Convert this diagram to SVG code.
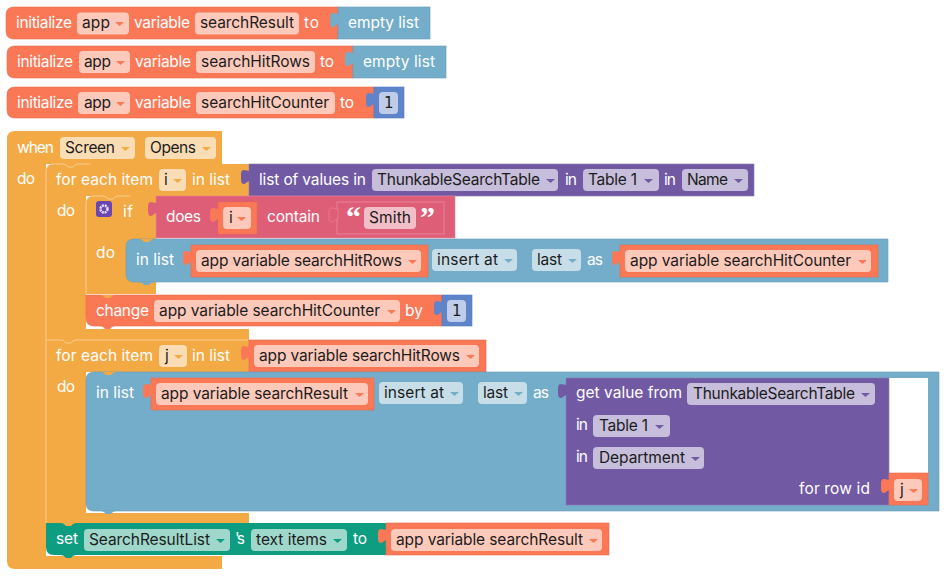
<svg xmlns="http://www.w3.org/2000/svg" width="950" height="577" viewBox="0 0 950 577">
<style>
text{font-family:"Inter","Liberation Sans",sans-serif;font-size:15.500px}
.l{fill:#fff}.f{fill:#1c1c1c}
.one{font-family:"DejaVu Sans",sans-serif;font-size:15px}
.q{font-family:"Liberation Serif",serif;font-size:30px;font-weight:bold}
.or{fill:#FB7857;stroke:#E56B4C;stroke-width:.6}.bl{fill:#74ADC9;stroke:#659CB8;stroke-width:.6}
.pu{fill:#715AA3;stroke:#8C79B6;stroke-width:.6}.pk{fill:#DE5E78;stroke:#E8829A;stroke-width:.6}
.ye{fill:#F3AA44}.gr{fill:#0F9D82}.nu{fill:#5F84C9;stroke:#527AC0;stroke-width:.6}
.edge{fill:none;stroke:#F8CC90;stroke-width:1}
.for{fill:#FDC9BA}.fbl{fill:#C7DEE9}.fpu{fill:#C6BEDA}.fye{fill:#FADDB4}.fgr{fill:#9FD8CB}.fpk{fill:#F2BFC9}.fnu{fill:#BFCDE9}
.aor{fill:#FB7857}.abl{fill:#74ADC9}.apu{fill:#715AA3}.aye{fill:#F3AA44}.agr{fill:#0F9D82}
.none{fill:none;stroke:#EA8BA0;stroke-width:.8}
</style>
<defs>
<path id="tab" d="M1,0 C-2,0 -3,-1 -5,-1 C-8,-1 -8,2 -8,6 C-8,10 -8,13 -5,13 C-3,13 -2,10 1,10 Z"/>
<path id="notch" d="M0,0 Q3,0 5,3 H10 Q12,0 15,0 Z"/>
<path id="arr" d="M0,0 H9 L4.500,4 Z"/>
</defs>

<g id="init-searchResult">
<path class="or" d="M14,7 H338 V39 H14 Q6,39 6,31 V15 Q6,7 14,7 Z"/>
<rect class="bl" x="338" y="7" width="92" height="32"/><use href="#tab" x="338" y="14" fill="#74ADC9"/>
<text class="l" x="16" y="28" textLength="56">initialize</text>
<rect class="for" x="77" y="12.500" width="52" height="22" rx="4"/><text class="f" x="82" y="28" textLength="28">app</text><use href="#arr" x="115" y="22" class="aor"/>
<text class="l" x="134" y="28" textLength="56">variable</text>
<rect class="for" x="195" y="12.500" width="104" height="22" rx="4"/><text class="f" x="200" y="28" textLength="94">searchResult</text>
<text class="l" x="304" y="28" textLength="15">to</text>
<text class="l" x="348" y="28" textLength="71">empty list</text>
</g>

<g id="init-searchHitRows">
<path class="or" d="M15,46 H353 V78 H15 Q7,78 7,70 V54 Q7,46 15,46 Z"/>
<rect class="bl" x="353" y="46" width="93" height="32"/><use href="#tab" x="353" y="53" fill="#74ADC9"/>
<text class="l" x="17" y="67" textLength="56">initialize</text>
<rect class="for" x="79" y="51" width="51" height="22" rx="4"/><text class="f" x="84" y="67" textLength="27">app</text><use href="#arr" x="116" y="61" class="aor"/>
<text class="l" x="135" y="67" textLength="56">variable</text>
<rect class="for" x="196" y="51" width="119" height="22" rx="4"/><text class="f" x="201" y="67" textLength="109">searchHitRows</text>
<text class="l" x="320" y="67" textLength="14">to</text>
<text class="l" x="363" y="67" textLength="72">empty list</text>
</g>

<g id="init-searchHitCounter">
<path class="or" d="M15,87 H374 V118 H15 Q7,118 7,110 V95 Q7,87 15,87 Z"/>
<rect class="nu" x="374" y="87" width="30" height="31"/><use href="#tab" x="374" y="94" fill="#5F84C9"/>
<text class="l" x="17" y="108" textLength="56">initialize</text>
<rect class="for" x="78" y="92" width="52" height="22" rx="4"/><text class="f" x="84" y="108" textLength="27">app</text><use href="#arr" x="116" y="102" class="aor"/>
<text class="l" x="135" y="108" textLength="56">variable</text>
<rect class="for" x="196" y="92" width="139" height="22" rx="4"/><text class="f" x="201" y="108" textLength="128">searchHitCounter</text>
<text class="l" x="340" y="108" textLength="14">to</text>
<rect class="fnu" x="379" y="92" width="19" height="22" rx="4"/><text class="f one" x="384" y="108">1</text>
</g>

<g id="when-screen-opens">
<path class="ye" d="M15,131 H222 V164 H46 V556 H222 V569 H15 Q7,569 7,561 V139 Q7,131 15,131 Z"/>
<text class="l" x="17" y="153" textLength="37">when</text>
<rect class="fye" x="60" y="137" width="75" height="22" rx="4"/><text class="f" x="65" y="153" textLength="50">Screen</text><use href="#arr" x="121" y="147" class="aye"/>
<rect class="fye" x="145" y="137" width="71" height="22" rx="4"/><text class="f" x="150" y="153" textLength="46">Opens</text><use href="#arr" x="202" y="147" class="aye"/>
<text class="l" x="17" y="184" textLength="18">do</text>
</g>

<g id="for-each-i">
<path class="ye" d="M54,164 H249 V196 H86 V329 H249 V340 H46 V172 Q46,164 54,164 Z"/>
<path class="edge" d="M46,340 V172 Q46,164 54,164 H63 Q66,164 68,167 H73 Q75,164 78,164 H90"/>
<text class="l" x="56" y="185" textLength="97">for each item</text>
<rect class="fye" x="159" y="169" width="27" height="22" rx="4"/><text class="f" x="164" y="185" textLength="4">i</text><use href="#arr" x="173" y="179" class="aye"/>
<text class="l" x="192" y="185" textLength="38">in list</text>
<text class="l" x="57" y="216" textLength="18">do</text>
</g>

<g id="list-of-values">
<rect class="pu" x="249" y="164" width="505" height="32"/><use href="#tab" x="249" y="171" fill="#715AA3"/>
<text class="l" x="259" y="185" textLength="107">list of values in</text>
<rect class="fpu" x="372" y="169" width="186" height="22" rx="4"/><text class="f" x="377" y="185" textLength="163">ThunkableSearchTable</text><use href="#arr" x="546" y="179" class="apu"/>
<text class="l" x="565" y="185" textLength="12">in</text>
<rect class="fpu" x="583" y="169" width="76" height="22" rx="4"/><text class="f" x="588" y="185" textLength="49">Table 1</text><use href="#arr" x="644" y="179" class="apu"/>
<text class="l" x="664" y="185" textLength="12">in</text>
<rect class="fpu" x="682" y="169" width="66" height="22" rx="4"/><text class="f" x="687" y="185" textLength="41">Name</text><use href="#arr" x="734" y="179" class="apu"/>
</g>

<g id="if-block">
<path class="ye" d="M94,196 H156 V294 H86 V204 Q86,196 94,196 Z"/>
<path class="edge" d="M86,294 V204 Q86,196 94,196 H103 Q106,196 108,199 H113 Q115,196 118,196 H130"/>
<rect x="96" y="201" width="16" height="16" rx="3" fill="#6B46B0"/>
<circle cx="104" cy="209" r="3.500" fill="none" stroke="#E6DCF5" stroke-width="2.500" stroke-dasharray="2 .8"/>
<text class="l" x="123" y="217" textLength="10">if</text>
<text class="l" x="96" y="258" textLength="19">do</text>
</g>

<g id="does-contain">
<rect class="pk" x="156" y="196" width="299" height="42"/><use href="#tab" x="156" y="203" fill="#DE5E78"/>
<text class="l" x="166" y="222" textLength="35">does</text>
<rect class="or" x="218" y="202" width="39" height="32"/><use href="#tab" x="218" y="209" fill="#FB7857"/>
<rect class="for" x="223" y="207" width="28" height="22" rx="4"/><text class="f" x="229" y="223" textLength="4">i</text><use href="#arr" x="237" y="217" class="aor"/>
<text class="l" x="267" y="222" textLength="53">contain</text>
<rect class="none" x="337" y="202" width="107" height="32"/><use href="#tab" x="337" y="209" fill="#DE5E78" stroke="#EA8BA0" stroke-width=".6"/>
<text class="l q" x="346" y="227">“</text>
<rect class="fpk" x="364" y="207" width="52" height="22" rx="4"/><text class="f" x="369" y="223" textLength="42">Smith</text>
<text class="l q" x="420" y="227">”</text>
</g>

<g id="insert-hit-rows">
<path class="bl" d="M134,239 H888 V282 H134 Q126,282 126,274 V247 Q126,239 134,239 Z"/>
<use href="#notch" x="139" y="282" fill="#74ADC9"/>
<use href="#notch" x="139" y="239" fill="#F3AA44"/>
<text class="l" x="136" y="265" textLength="38">in list</text>
<rect class="or" x="191" y="245" width="237" height="32"/><use href="#tab" x="191" y="252" fill="#FB7857"/>
<rect class="for" x="196" y="250" width="225" height="22" rx="4"/><text class="f" x="201" y="266" textLength="201">app variable searchHitRows</text><use href="#arr" x="408" y="260" class="aor"/>
<rect class="fbl" x="432" y="249" width="85" height="22" rx="4"/><text class="f" x="437" y="265" textLength="61">insert at</text><use href="#arr" x="504" y="259" class="abl"/>
<rect class="fbl" x="532" y="249" width="49" height="22" rx="4"/><text class="f" x="537" y="265" textLength="25">last</text><use href="#arr" x="568" y="259" class="abl"/>
<text class="l" x="587" y="265" textLength="16">as</text>
<rect class="or" x="620" y="245" width="258" height="32"/><use href="#tab" x="620" y="252" fill="#FB7857"/>
<rect class="for" x="625" y="250" width="246" height="22" rx="4"/><text class="f" x="630" y="266" textLength="221">app variable searchHitCounter</text><use href="#arr" x="858" y="260" class="aor"/>
</g>

<g id="change-counter">
<path class="or" d="M86,295 H442 V326 H94 Q86,326 86,318 Z"/>
<use href="#notch" x="100" y="326" fill="#FB7857"/>
<use href="#notch" x="100" y="295" fill="#F3AA44"/>
<rect class="nu" x="442" y="295" width="30" height="31"/><use href="#tab" x="442" y="302" fill="#5F84C9"/>
<text class="l" x="96" y="316" textLength="53">change</text>
<rect class="for" x="154" y="300" width="246" height="22" rx="4"/><text class="f" x="159" y="316" textLength="221">app variable searchHitCounter</text><use href="#arr" x="387" y="310" class="aor"/>
<text class="l" x="405" y="316" textLength="18">by</text>
<rect class="fnu" x="447" y="300" width="19" height="22" rx="4"/><text class="f one" x="452" y="316">1</text>
</g>

<g id="for-each-j">
<path class="ye" d="M46,340 H249 V372 H86 V513 H249 V523 H46 Z"/>
<path class="edge" d="M46,523 V340 H61 Q64,340 66,343 H71 Q73,340 76,340 H248"/>
<text class="l" x="56" y="361" textLength="97">for each item</text>
<rect class="fye" x="159" y="345" width="28" height="22" rx="4"/><text class="f" x="165" y="361" textLength="5">j</text><use href="#arr" x="174" y="355" class="aye"/>
<text class="l" x="192" y="361" textLength="38">in list</text>
<text class="l" x="57" y="392" textLength="18">do</text>
<rect class="or" x="249" y="340" width="237" height="32"/><use href="#tab" x="249" y="347" fill="#FB7857"/>
<rect class="for" x="254" y="345" width="225" height="22" rx="4"/><text class="f" x="259" y="361" textLength="201">app variable searchHitRows</text><use href="#arr" x="466" y="355" class="aor"/>
</g>

<g id="insert-search-result">
<path class="bl" d="M94,372 H939 V511 H94 Q86,511 86,503 V380 Q86,372 94,372 Z"/>
<use href="#notch" x="101" y="511" fill="#74ADC9"/>
<use href="#notch" x="101" y="372" fill="#F3AA44"/>
<rect x="889" y="378" width="39" height="96" fill="#fff"/>
<text class="l" x="96" y="398" textLength="38">in list</text>
<rect class="or" x="151" y="378" width="223" height="32"/><use href="#tab" x="151" y="385" fill="#FB7857"/>
<rect class="for" x="156" y="383" width="212" height="22" rx="4"/><text class="f" x="161" y="399" textLength="187">app variable searchResult</text><use href="#arr" x="355" y="393" class="aor"/>
<rect class="fbl" x="379" y="382" width="84" height="22" rx="4"/><text class="f" x="384" y="398" textLength="60">insert at</text><use href="#arr" x="450" y="392" class="abl"/>
<rect class="fbl" x="478" y="382" width="49" height="22" rx="4"/><text class="f" x="483" y="398" textLength="25">last</text><use href="#arr" x="514" y="392" class="abl"/>
<text class="l" x="533" y="398" textLength="16">as</text>
</g>

<g id="get-value">
<rect class="pu" x="566" y="378" width="323" height="127"/><use href="#tab" x="566" y="385" fill="#715AA3"/>
<text class="l" x="576" y="398" textLength="106">get value from</text>
<rect class="fpu" x="687" y="383" width="188" height="22" rx="4"/><text class="f" x="693" y="399" textLength="162">ThunkableSearchTable</text><use href="#arr" x="861" y="393" class="apu"/>
<text class="l" x="576" y="430" textLength="12">in</text>
<rect class="fpu" x="593" y="415" width="77" height="22" rx="4"/><text class="f" x="599" y="431" textLength="49">Table 1</text><use href="#arr" x="655" y="425" class="apu"/>
<text class="l" x="576" y="462" textLength="12">in</text>
<rect class="fpu" x="593" y="447" width="111" height="22" rx="4"/><text class="f" x="599" y="463" textLength="86">Department</text><use href="#arr" x="691" y="457" class="apu"/>
<text class="l" x="799" y="494" textLength="71">for row id</text>
<rect class="or" x="889" y="473" width="39" height="32"/><use href="#tab" x="889" y="480" fill="#FB7857"/>
<rect class="for" x="894" y="479" width="28" height="22" rx="4"/><text class="f" x="900" y="495" textLength="5">j</text><use href="#arr" x="909" y="489" class="aor"/>
</g>

<g id="set-text-items">
<path class="gr" d="M46,523 H386 V555 H54 Q46,555 46,547 Z"/>
<use href="#notch" x="61" y="555" fill="#0F9D82"/>
<use href="#notch" x="61" y="523" fill="#F3AA44"/>
<text class="l" x="56" y="544" textLength="22">set</text>
<rect class="fgr" x="84" y="529" width="146" height="22" rx="4"/><text class="f" x="89" y="545" textLength="121">SearchResultList</text><use href="#arr" x="216" y="539" class="agr"/>
<text class="l" x="235" y="544" textLength="10">'s</text>
<rect class="fgr" x="251" y="529" width="96" height="22" rx="4"/><text class="f" x="256" y="545" textLength="71">text items</text><use href="#arr" x="333" y="539" class="agr"/>
<text class="l" x="353" y="544" textLength="14">to</text>
<rect class="or" x="386" y="523" width="223" height="32"/><use href="#tab" x="386" y="530" fill="#FB7857"/>
<rect class="for" x="391" y="529" width="211" height="22" rx="4"/><text class="f" x="396" y="545" textLength="187">app variable searchResult</text><use href="#arr" x="589" y="539" class="aor"/>
</g>
</svg>
